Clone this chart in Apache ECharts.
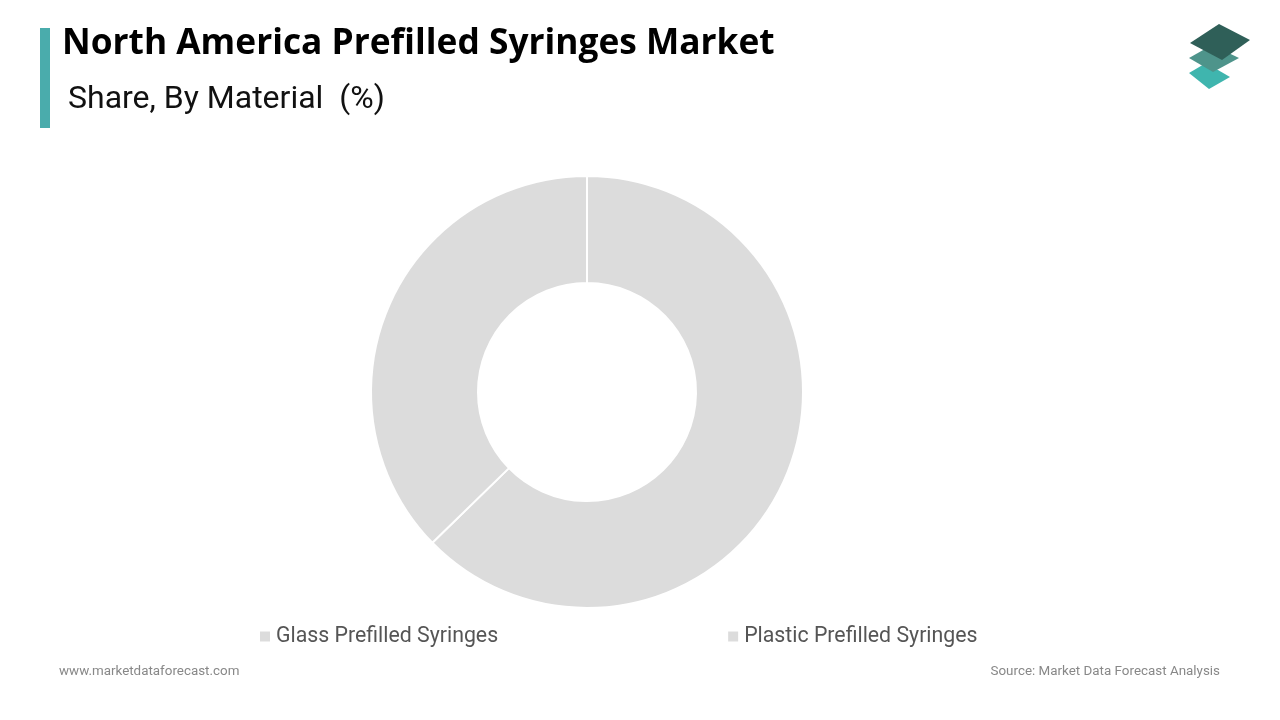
<!DOCTYPE html>
<html>
<head>
<meta charset="utf-8">
<script src="https://cdn.jsdelivr.net/npm/echarts@6/dist/echarts.min.js"></script>
<style>
html,body{margin:0;padding:0;background:#fff;}
#chart{width:1280px;height:720px;}
</style>
</head>
<body>
<div id="chart"></div>
<script>
const categories = ['Glass Prefilled Syringes', 'Plastic Prefilled Syringes'];
const shares = [62.7, 37.3];
const sliceColors = ['#dcdcdc', '#dcdcdc'];

const chart = echarts.init(document.getElementById('chart'));
chart.setOption({
  backgroundColor: '#ffffff',
  animation: false,
  graphic: [
    { type: 'rect', shape: { x: 40, y: 28, width: 10, height: 100 }, style: { fill: '#4aacac' } },
    { type: 'text', left: 62, top: 26, style: { text: 'North America Prefilled Syringes Market', font: 'bold 35.3px "Open Sans"', fill: '#000' } },
    { type: 'text', left: 68, top: 84, style: { text: 'Share, By Material  (%)', font: '32px Roboto', fill: '#111' } },
    { type: 'text', left: 59, top: 665, style: { text: 'www.marketdataforecast.com', font: '13.4px Roboto', fill: '#888' } },
    { type: 'text', right: 60, top: 665, style: { text: 'Source: Market Data Forecast Analysis', font: '13.4px Roboto', fill: '#888' } },
    { type: 'polygon', shape: { points: [[1189,73],[1206,63],[1230,77],[1209,89]] }, style: { fill: '#3fb5ae' } },
    { type: 'polygon', shape: { points: [[1189,58],[1212,45],[1239,58],[1213,72]] }, style: { fill: '#4e948b' } },
    { type: 'polygon', shape: { points: [[1190,43],[1219,24],[1250,40],[1222,60]] }, style: { fill: '#2f5f58' } }
  ],
  legend: {
    data: categories,
    top: 621,
    left: 253,
    itemWidth: 12,
    itemHeight: 12,
    itemGap: 228,
    icon: 'rect',
    textStyle: { fontFamily: 'Roboto', fontSize: 21.3, color: '#555' }
  },
  series: [{
    type: 'pie',
    center: [587, 392],
    radius: [109, 216],
    startAngle: 90,
    clockwise: true,
    label: { show: false },
    labelLine: { show: false },
    itemStyle: { borderColor: '#fff', borderWidth: 2 },
    emphasis: { disabled: true },
    data: categories.map((c, i) => ({ name: c, value: shares[i], itemStyle: { color: sliceColors[i] } }))
  }]
});
</script>
</body>
</html>
